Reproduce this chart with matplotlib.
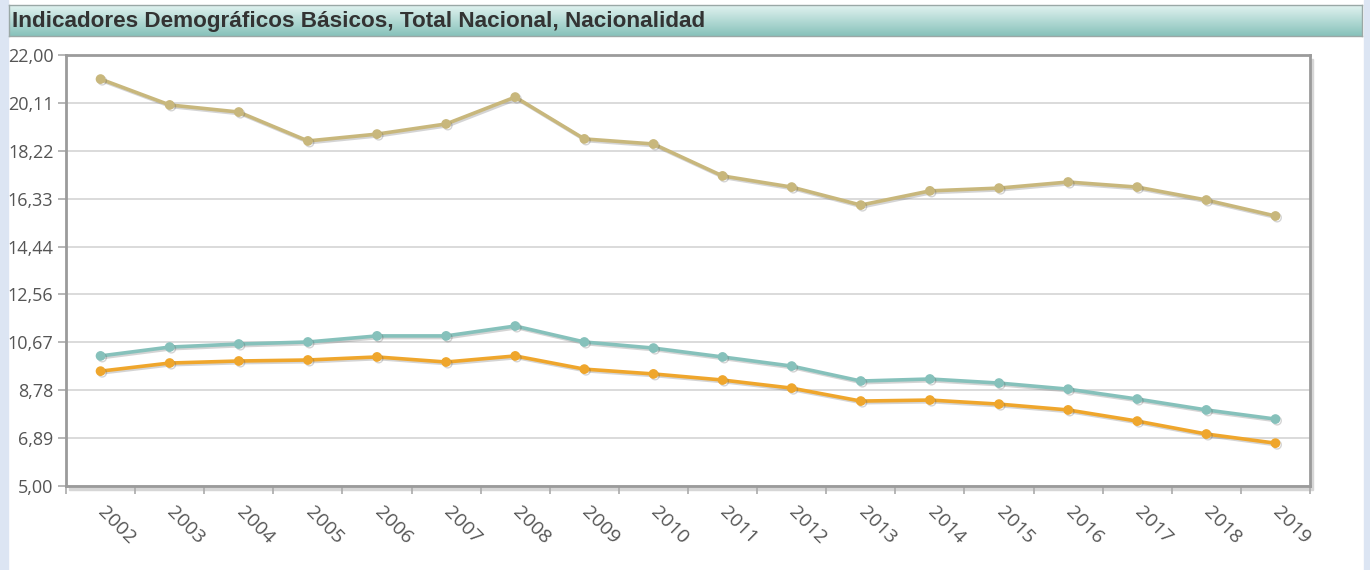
import numpy as np
import matplotlib
matplotlib.use("Agg")
import matplotlib.pyplot as plt
import matplotlib.patheffects as pe
from matplotlib.patches import Rectangle
from matplotlib.transforms import ScaledTranslation

# Data
years = [str(y) for y in range(2002, 2020)]
serie_tan = [21.05, 20.03, 19.75, 18.61, 18.88, 19.28, 20.34, 18.69, 18.49,
             17.23, 16.79, 16.08, 16.64, 16.75, 16.99, 16.79, 16.28, 15.65]
serie_teal = [10.13, 10.48, 10.60, 10.68, 10.92, 10.92, 11.31, 10.68, 10.44,
              10.09, 9.73, 9.14, 9.22, 9.06, 8.82, 8.43, 8.00, 7.64]
serie_orange = [9.53, 9.85, 9.93, 9.97, 10.09, 9.89, 10.13, 9.61, 9.42,
                9.18, 8.86, 8.35, 8.39, 8.23, 8.00, 7.56, 7.05, 6.69]
ytick_vals = [5.00, 6.89, 8.78, 10.67, 12.56, 14.44, 16.33, 18.22, 20.11, 22.00]
ytick_labels = ["5,00", "6,89", "8,78", "10,67", "12,56", "14,44", "16,33",
                "18,22", "20,11", "22,00"]
title = "Indicadores Demográficos Básicos, Total Nacional, Nacionalidad"

W, H = 1370, 570
fig = plt.figure(figsize=(W / 100, H / 100), dpi=100)
fig.patch.set_facecolor("white")

# light blue side strips
fig.patches.append(Rectangle((0, 0), 8 / W, 1, transform=fig.transFigure,
                             color="#dce5f3", zorder=-2))
fig.patches.append(Rectangle((1364 / W, 0), 6 / W, 1, transform=fig.transFigure,
                             color="#dce5f3", zorder=-2))

# title bar with gradient
tax = fig.add_axes([9 / W, (H - 36) / H, (1362 - 9) / W, 31 / H])
grad = np.linspace(0, 1, 64).reshape(-1, 1)
c_top = np.array([0.88, 0.95, 0.94])
c_bot = np.array([0.53, 0.76, 0.73])
img = c_top[None, None, :] * (1 - grad[:, :, None]) + c_bot[None, None, :] * grad[:, :, None]
tax.imshow(img, aspect="auto", extent=[0, 1, 0, 1])
tax.set_xlim(0, 1)
tax.set_ylim(0, 1)
tax.set_xticks([])
tax.set_yticks([])
for s in tax.spines.values():
    s.set_color("#9aa8a6")
    s.set_linewidth(1)
tax.text(3 / 1353, 0.48, title, fontsize=16.2, fontweight="bold",
         family="Liberation Sans", color="#333333", va="center", ha="left")

# plot area
left, right, top, bottom = 66, 1310, 55, 486
ax = fig.add_axes([left / W, (H - bottom) / H, (right - left) / W, (bottom - top) / H])

# frame shadow
fig.patches.append(Rectangle(((left + 3) / W, (H - bottom - 4) / H), (right - left) / W,
                             (bottom - top) / H, transform=fig.transFigure,
                             color="#d6d6d6", zorder=-1))

x = np.arange(len(years))
shadow = [pe.SimpleLineShadow(offset=(1.2, -1.2), alpha=0.25, shadow_color="#555555"),
          pe.Normal()]
for vals, col in [(serie_tan, "#c8b77c"), (serie_teal, "#86c1bb"), (serie_orange, "#efa62c")]:
    ax.plot(x, vals, color=col, lw=2.6, marker="o", markersize=6,
            zorder=3, path_effects=shadow)

ax.set_xlim(-0.5, len(years) - 0.5)
ax.set_ylim(5, 22)
ax.set_yticks(ytick_vals)
ax.set_yticklabels(ytick_labels)
ax.yaxis.grid(True, color="#d4d4d4", lw=1.2)
ax.set_axisbelow(True)

ax.set_xticks(x)
ax.set_xticklabels(years, rotation=-45, ha="left", va="top")
ax.set_xticks(np.arange(-0.5, len(years)), minor=True)
ax.tick_params(axis="x", which="major", length=0, pad=12, labelsize=14, labelcolor="#555555")
ax.tick_params(axis="x", which="minor", length=6, color="#aaaaaa", width=1.2)
ax.tick_params(axis="y", length=6, color="#aaaaaa", width=1.2, labelsize=13,
               labelcolor="#555555", pad=3)
offset = ScaledTranslation(-6 / 100, 0, fig.dpi_scale_trans)
for lbl in ax.get_xticklabels():
    lbl.set_transform(lbl.get_transform() + offset)
    lbl.set_family("Open Sans")
for lbl in ax.get_yticklabels():
    lbl.set_family("Open Sans")

for s in ax.spines.values():
    s.set_color("#9b9b9b")
    s.set_linewidth(2)

fig.savefig("out.png", dpi=100, facecolor=fig.get_facecolor())
